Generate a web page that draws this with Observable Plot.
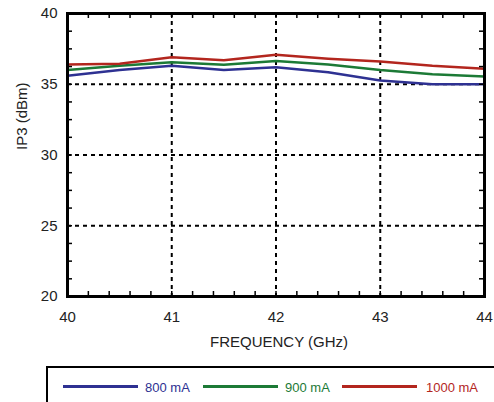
<!DOCTYPE html>
<html>
<head>
<meta charset="utf-8">
<script src="https://cdn.jsdelivr.net/npm/d3@7"></script>
<script src="https://cdn.jsdelivr.net/npm/@observablehq/plot@0.6"></script>
<style>
  html, body { margin: 0; padding: 0; background: #fff; overflow: hidden; }
  body { width: 494px; height: 402px; position: relative; font-family: "Liberation Sans", Arial, Helvetica, sans-serif; }
  #legend { position: absolute; top: 366px; left: 46px; width: 470px; height: 60px; border: 2px solid #000; box-sizing: border-box; }
  .item { position: absolute; top: 12px; font-size: 13px; line-height: 16px; }
  .swatch { position: absolute; height: 3px; width: 75px; top: 17px; }
</style>
</head>
<body>
<div id="chart"></div>
<div id="legend"></div>
<script>
const freq = [40, 40.5, 41, 41.5, 42, 42.5, 43, 43.5, 44];
const ma800 = [35.6, 36.0, 36.3, 36.0, 36.2, 35.85, 35.27, 35.0, 35.0];
const ma900 = [36.0, 36.3, 36.55, 36.37, 36.65, 36.4, 36.0, 35.7, 35.55];
const ma1000 = [36.4, 36.45, 36.9, 36.7, 37.08, 36.8, 36.6, 36.3, 36.1];
const seriesNames = ["800 mA", "900 mA", "1000 mA"];
const seriesColors = ["#2e3192", "#1c7a36", "#b3261e"];
const xTicks = [40, 41, 42, 43, 44];
const yTicks = [20, 25, 30, 35, 40];
const xGrid = [41, 42, 43];
const yGrid = [25, 30, 35];

const seriesValues = [ma800, ma900, ma1000];
const data = [];
seriesNames.forEach((name, i) => {
  freq.forEach((f, j) => data.push({freq: f, ip3: seriesValues[i][j], series: name}));
});

const xMinor = d3.range(40.2, 44, 0.2);
const yMinor = d3.range(21.25, 40, 1.25);

const W = 494, H = 360, mL = 67, mR = 10, mT = 13, mB = 64;
const pw = W - mL - mR, ph = H - mT - mB;

const chart = Plot.plot({
  width: W,
  height: H,
  marginLeft: mL,
  marginRight: mR,
  marginTop: mT,
  marginBottom: mB,
  style: {fontFamily: '"Liberation Sans", Arial, Helvetica, sans-serif', fontSize: "15px", color: "#222", background: "#fff"},
  x: {domain: [40, 44]},
  y: {domain: [20, 40]},
  color: {domain: seriesNames, range: seriesColors},
  marks: [
    Plot.gridX(xGrid, {stroke: "#000", strokeOpacity: 1, strokeWidth: 2, strokeDasharray: "4,4"}),
    Plot.gridY(yGrid, {stroke: "#000", strokeOpacity: 1, strokeWidth: 2, strokeDasharray: "4,4"}),
    Plot.line(data, {x: "freq", y: "ip3", stroke: "series", z: "series", strokeWidth: 2.5}),
    Plot.tickX(xMinor, {x: d => d, insetTop: ph - 5, stroke: "#000", strokeWidth: 1.5}),
    Plot.tickX(xMinor, {x: d => d, insetBottom: ph - 5, stroke: "#000", strokeWidth: 1.5}),
    Plot.tickY(yMinor, {y: d => d, insetRight: pw - 5, stroke: "#000", strokeWidth: 1.5}),
    Plot.tickY(yMinor, {y: d => d, insetLeft: pw - 5, stroke: "#000", strokeWidth: 1.5}),
    Plot.frame({stroke: "#000", strokeWidth: 3}),
    Plot.axisX({ticks: xTicks, tickFormat: d3.format("d"), tickSize: 0, tickPadding: 15, label: null, fontSize: 15}),
    Plot.axisY({ticks: yTicks, tickFormat: d3.format("d"), tickSize: 0, tickPadding: 10, label: null, fontSize: 15}),
    Plot.text(["FREQUENCY (GHz)"], {frameAnchor: "bottom", dy: 50, dx: 3, fontSize: 15, fill: "#222"}),
    Plot.text(["IP3 (dBm)"], {frameAnchor: "left", dx: -45, dy: -5, rotate: -90, fontSize: 15, fill: "#222"})
  ]
});
document.getElementById("chart").appendChild(chart);

const legend = document.getElementById("legend");
const swatchLefts = [15, 155, 294];
const textLefts = [97, 237, 378];
seriesNames.forEach((name, i) => {
  const sw = document.createElement("div");
  sw.className = "swatch";
  sw.style.left = swatchLefts[i] + "px";
  sw.style.background = seriesColors[i];
  legend.appendChild(sw);
  const t = document.createElement("div");
  t.className = "item";
  t.style.left = textLefts[i] + "px";
  t.style.color = seriesColors[i];
  t.textContent = name;
  legend.appendChild(t);
});
</script>
</body>
</html>
